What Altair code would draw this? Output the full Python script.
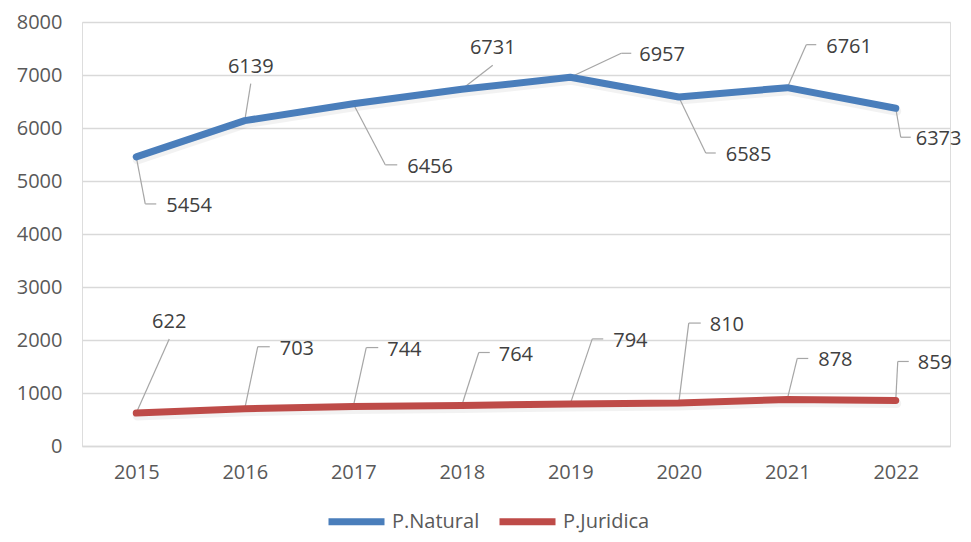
import altair as alt
import pandas as pd

# ---- data ----
years = [2015, 2016, 2017, 2018, 2019, 2020, 2021, 2022]
natural = [5454, 6139, 6456, 6731, 6957, 6585, 6761, 6373]
juridica = [622, 703, 744, 764, 794, 810, 878, 859]
series_names = ["P.Natural", "P.Juridica"]
series_colors = ["#4A7EBB", "#BE4B48"]

# ---- layout of data-label leaders (pixel offsets: elbow dx, dy, horizontal length, gap, mode) ----
nat_layout = [(9, 47, 11, 10, "left"), (6, -37, 0, 0, "top"), (32, 61, 12, 10, "left"), (31, -24, 0, 0, "top"),
              (51, -24, 10, 8, "left"), (27, 56, 10, 10, "left"), (19, -43, 10, 10, "left"), (5, 29, 10, 5, "left")]
jur_layout = [(33, -74, 0, 0, "top"), (13, -62, 12, 10, "left"), (13, -59, 12, 9, "left"), (17, -53, 11, 9, "left"),
              (22, -65, 11, 10, "left"), (10, -80, 12, 9, "left"), (10, -41, 11, 10, "left"), (2, -39, 11, 9, "left")]

W, H = 868, 424
XMIN, XMAX = 2014.5, 2022.5
YMIN, YMAX = 0, 8000
px_x = (XMAX - XMIN) / W
px_y = (YMAX - YMIN) / H

line_rows = []
for n, s in zip(series_names, [natural, juridica]):
    for yr, v in zip(years, s):
        line_rows.append({"year": yr, "value": v, "series": n})
lines_df = pd.DataFrame(line_rows)

seg_rows, lab_rows = [], []
for s, lay in zip([natural, juridica], [nat_layout, jur_layout]):
    for yr, v, (dx, dy, hl, gap, mode) in zip(years, s, lay):
        ex, ey = yr + dx * px_x, v - dy * px_y
        seg_rows.append({"x": yr, "y": v, "x2": ex, "y2": ey})
        if hl > 0:
            seg_rows.append({"x": ex, "y": ey, "x2": ex + hl * px_x, "y2": ey})
        if mode == "left":
            lab_rows.append({"x": ex + (hl + gap) * px_x, "y": ey - 2 * px_y, "text": str(v), "mode": "left"})
        else:
            lab_rows.append({"x": ex, "y": ey + 17 * px_y, "text": str(v), "mode": "top"})
seg_df = pd.DataFrame(seg_rows)
lab_df = pd.DataFrame(lab_rows)

FONT = "Open Sans"
xscale = alt.Scale(domain=[XMIN, XMAX], nice=False, zero=False)
yscale = alt.Scale(domain=[YMIN, YMAX], nice=False)

x_axis = alt.Axis(values=years, format="d", grid=False, ticks=False, domainColor="#D9D9D9",
                  domainWidth=1.5, labelFont=FONT, labelFontSize=20, labelColor="#595959",
                  labelPadding=16, title=None)
y_axis = alt.Axis(values=list(range(0, 8001, 1000)), format="d", grid=True, gridColor="#D9D9D9",
                  gridWidth=1.3, ticks=False, domain=False, labelFont=FONT, labelFontSize=20,
                  labelColor="#595959", labelPadding=20, title=None)

shadow = alt.Chart(lines_df).mark_line(strokeWidth=9, color="#000000", opacity=0.05,
                                         yOffset=3, xOffset=1, strokeCap="round", strokeJoin="round").encode(
    x=alt.X("year:Q", scale=xscale, axis=x_axis),
    y=alt.Y("value:Q", scale=yscale, axis=y_axis),
    detail="series:N",
)

lines = alt.Chart(lines_df).mark_line(strokeWidth=7, strokeCap="round", strokeJoin="round").encode(
    x=alt.X("year:Q", scale=xscale),
    y=alt.Y("value:Q", scale=yscale),
    color=alt.Color("series:N", sort=series_names,
                    scale=alt.Scale(domain=series_names, range=series_colors),
                    legend=alt.Legend(title=None, orient="none", legendX=257, legendY=482,
                                      direction="horizontal", symbolType="M-2,0H2",
                                      symbolStrokeWidth=7, symbolSize=784, labelFont=FONT,
                                      labelFontSize=20, labelColor="#595959", labelOffset=18,
                                      columnPadding=5, padding=0)),
)

leaders = alt.Chart(seg_df).mark_rule(color="#A6A6A6", strokeWidth=1.2).encode(
    x=alt.X("x:Q", scale=xscale), y=alt.Y("y:Q", scale=yscale),
    x2="x2:Q", y2="y2:Q",
)

labels_left = alt.Chart(lab_df).transform_filter(alt.datum.mode == "left").mark_text(
    align="left", baseline="middle", font=FONT, fontSize=20, color="#404040").encode(
    x=alt.X("x:Q", scale=xscale), y=alt.Y("y:Q", scale=yscale), text="text:N")

labels_top = alt.Chart(lab_df).transform_filter(alt.datum.mode == "top").mark_text(
    align="center", baseline="middle", font=FONT, fontSize=20, color="#404040").encode(
    x=alt.X("x:Q", scale=xscale), y=alt.Y("y:Q", scale=yscale), text="text:N")

chart = alt.layer(shadow, leaders, lines, labels_left, labels_top).properties(
    width=W, height=H,
    autosize=alt.AutoSizeParams(type="none"),
    padding={"left": 74, "top": 14, "right": 13, "bottom": 88},
).configure_view(stroke=None).configure(background="white")

chart.save("out.html", embed_options={"renderer": "svg", "actions": False})
